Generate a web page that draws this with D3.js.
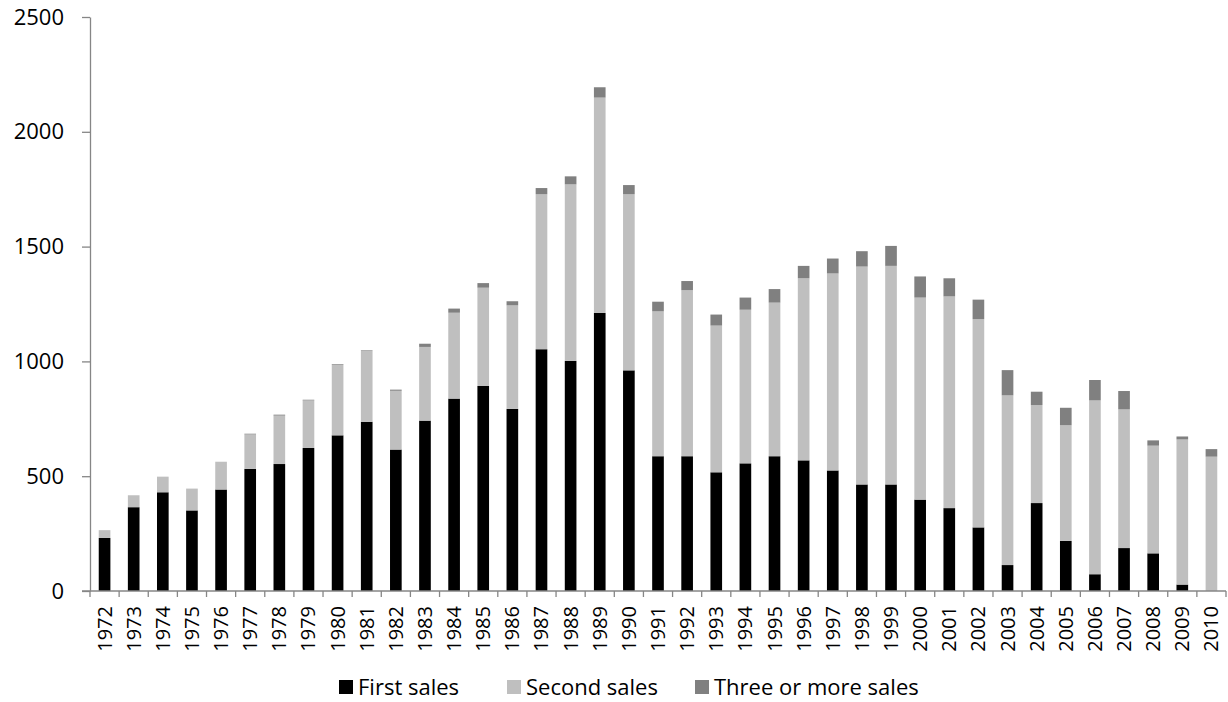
<!DOCTYPE html>
<html>
<head>
<meta charset="utf-8">
<script src="https://cdn.jsdelivr.net/npm/d3@7"></script>
<style>
  body { margin: 0; background: #fff; }
  svg text { font-family: "Open Sans", "Noto Sans", sans-serif; fill: #000; }
</style>
</head>
<body>
<svg id="chart" width="1228" height="702"></svg>
<script>
// values
const years = d3.range(1972, 2011).map(String)
const firstSales = [231, 365, 430, 351, 442, 532, 553, 623, 678, 737, 616, 742, 838, 893, 793, 1053, 1002, 1211, 961, 587,
    587, 517, 556, 587, 569, 525, 464, 464, 398, 361, 277, 113, 383, 218, 73, 187, 164, 28, 0]
const secondSales = [34, 52, 68, 95, 121, 150, 211, 207, 307, 308, 256, 321, 374, 428, 451, 675, 769, 938, 767, 631,
    723, 639, 669, 669, 793, 858, 949, 952, 880, 922, 907, 739, 427, 504, 757, 604, 469, 632, 585]
const threePlusSales = [0, 0, 0, 0, 0, 3, 4, 3, 3, 3, 5, 14, 18, 20, 18, 27, 35, 45, 40, 42,
    40, 48, 53, 59, 54, 65, 67, 87, 92, 79, 85, 110, 58, 76, 89, 80, 23, 13, 33]
const seriesNames = ["First sales", "Second sales", "Three or more sales"]
const seriesColors = ["#000000", "#bfbfbf", "#808080"]
const yTicks = [0, 500, 1000, 1500, 2000, 2500]

const svg = d3.select("#chart")
const plotLeft = 90, plotRight = 1226, plotTop = 17, plotBottom = 591
const axisColor = "#868686"

const rows = years.map((yr, i) => ({
    year: yr,
    first: firstSales[i],
    second: secondSales[i],
    three: threePlusSales[i],
}))
const stack = d3.stack().keys(["first", "second", "three"])(rows)

const x = d3.scaleBand().domain(years).range([plotLeft, plotRight])
    .paddingInner(0.6).paddingOuter(0.3)
const y = d3.scaleLinear().domain([0, 2500]).range([plotBottom, plotTop])

// bars
svg.append("g")
    .selectAll("g")
    .data(stack)
    .join("g")
    .attr("fill", (d, i) => seriesColors[i])
    .selectAll("rect")
    .data((d) => d)
    .join("rect")
    .attr("x", (d) => x(d.data.year))
    .attr("width", x.bandwidth())
    .attr("y", (d) => y(d[1]))
    .attr("height", (d) => y(d[0]) - y(d[1]))

// y axis
const yAxis = svg.append("g")
    .attr("transform", `translate(${plotLeft},0)`)
    .call(d3.axisLeft(y).tickValues(yTicks).tickFormat(d3.format("d"))
        .tickSize(8).tickPadding(18).tickSizeOuter(0))
yAxis.select(".domain").attr("stroke", axisColor).attr("stroke-width", 1.3)
yAxis.selectAll(".tick line").attr("stroke", axisColor).attr("stroke-width", 1.3)
yAxis.selectAll(".tick text").style("font-size", "22px")

// x axis: line, ticks between categories, rotated labels
const xAxis = svg.append("g")
xAxis.append("line")
    .attr("x1", plotLeft - 8).attr("x2", plotRight)
    .attr("y1", plotBottom).attr("y2", plotBottom)
    .attr("stroke", axisColor).attr("stroke-width", 1.3)
xAxis.selectAll("line.tk")
    .data(d3.range(years.length + 1))
    .join("line")
    .attr("class", "tk")
    .attr("x1", (i) => plotLeft + i * x.step())
    .attr("x2", (i) => plotLeft + i * x.step())
    .attr("y1", plotBottom).attr("y2", plotBottom + 6)
    .attr("stroke", axisColor).attr("stroke-width", 1.3)
xAxis.selectAll("text")
    .data(years)
    .join("text")
    .attr("transform", (d) => `translate(${x(d) + x.bandwidth() / 2},${plotBottom + 15}) rotate(-90)`)
    .attr("text-anchor", "end")
    .attr("dy", "0.35em")
    .style("font-size", "20px")
    .text((d) => d)

// legend
const legendX = [339, 507, 695]
const legend = svg.append("g")
    .selectAll("g")
    .data(seriesNames)
    .join("g")
    .attr("transform", (d, i) => `translate(${legendX[i]},687)`)
legend.append("rect")
    .attr("x", 0).attr("y", -7)
    .attr("width", 14).attr("height", 14)
    .attr("fill", (d, i) => seriesColors[i])
legend.append("text")
    .attr("x", 19)
    .attr("dy", "0.35em")
    .style("font-size", "22px")
    .text((d) => d)
</script>
</body>
</html>
